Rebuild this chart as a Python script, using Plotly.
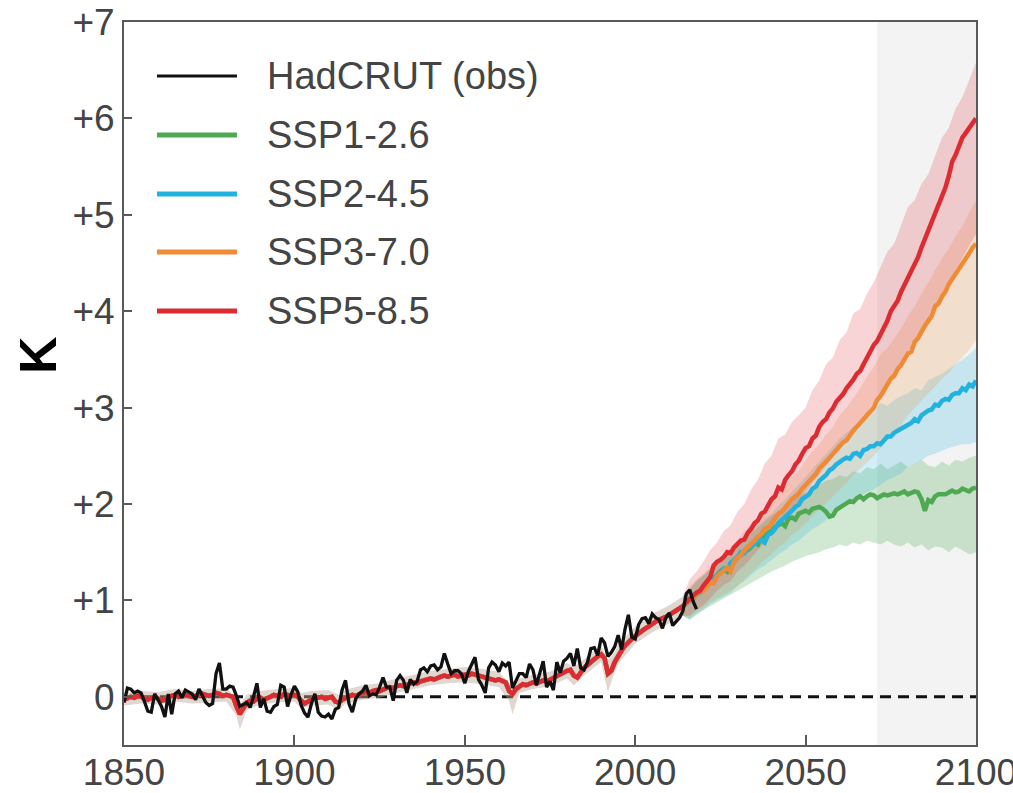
import plotly.graph_objects as go

# ---------------- data ----------------
years_hist = list(range(1850, 2015))
hist_mean = [
    -0.03, -0.02, 0.00, -0.01, 0.01, 0.00, -0.02, -0.03, -0.01, 0.00,
    -0.02, -0.04, -0.03, 0.00, 0.01, 0.02, 0.00, 0.01, 0.02, 0.01,
    0.00, 0.01, 0.02, 0.03, 0.02, 0.01, 0.02, 0.04, 0.03, 0.01,
    0.02, 0.01, 0.00, -0.10, -0.18, -0.12, -0.06, -0.04, -0.05, -0.02,
    -0.01, -0.03, -0.02, 0.00, 0.02, 0.01, 0.00, 0.03, 0.02, 0.01,
    0.02, 0.00, -0.04, -0.07, -0.05, -0.02, 0.00, -0.01, 0.00, -0.02,
    -0.01, 0.00, -0.05, -0.06, -0.03, -0.01, 0.00, 0.02, 0.01, 0.03,
    0.04, 0.05, 0.04, 0.06, 0.07, 0.06, 0.08, 0.09, 0.10, 0.09,
    0.11, 0.12, 0.11, 0.13, 0.14, 0.15, 0.14, 0.16, 0.17, 0.18,
    0.19, 0.18, 0.20, 0.21, 0.22, 0.21, 0.22, 0.23, 0.21, 0.22,
    0.23, 0.22, 0.24, 0.23, 0.22, 0.21, 0.20, 0.19, 0.18, 0.17,
    0.18, 0.17, 0.15, 0.06, 0.03, 0.08, 0.11, 0.13, 0.12, 0.14,
    0.15, 0.14, 0.15, 0.17, 0.16, 0.18, 0.19, 0.22, 0.23, 0.25,
    0.27, 0.28, 0.22, 0.20, 0.26, 0.30, 0.33, 0.36, 0.40, 0.42,
    0.44, 0.40, 0.24, 0.27, 0.36, 0.43, 0.48, 0.53, 0.57, 0.60,
    0.63, 0.66, 0.69, 0.71, 0.73, 0.76, 0.78, 0.80, 0.81, 0.83,
    0.85, 0.87, 0.89, 0.91, 0.94,
]

years_future = list(range(2015, 2101))
ssp126 = [
    0.97, 1.00, 1.03, 1.05, 1.08, 1.12, 1.15, 1.19, 1.22, 1.26,
    1.30, 1.33, 1.30, 1.38, 1.40, 1.45, 1.47, 1.50, 1.53, 1.55,
    1.60, 1.58, 1.66, 1.66, 1.70, 1.72, 1.76, 1.78, 1.80, 1.77,
    1.85, 1.86, 1.84, 1.90, 1.92, 1.93, 1.91, 1.95, 1.96, 1.97,
    1.95, 1.92, 1.87, 1.88, 1.94, 1.96, 1.98, 2.00, 2.03, 2.02,
    2.06, 2.08, 2.05, 2.08, 2.10, 2.09, 2.06, 2.08, 2.10, 2.09,
    2.10, 2.11, 2.10, 2.12, 2.13, 2.10, 2.12, 2.13, 2.12, 2.05,
    1.93, 2.04, 2.02, 2.08, 2.10, 2.10, 2.10, 2.12, 2.14, 2.12,
    2.13, 2.16, 2.14, 2.13, 2.16, 2.17,
]
ssp245 = [
    0.97, 0.99, 1.02, 1.06, 1.08, 1.12, 1.16, 1.18, 1.24, 1.26,
    1.30, 1.33, 1.32, 1.39, 1.42, 1.45, 1.50, 1.49, 1.55, 1.56,
    1.58, 1.62, 1.63, 1.60, 1.68, 1.70, 1.74, 1.80, 1.83, 1.86,
    1.90, 1.93, 1.97, 1.99, 2.05, 2.08, 2.10, 2.16, 2.18, 2.24,
    2.27, 2.30, 2.35, 2.37, 2.41, 2.44, 2.46, 2.48, 2.47, 2.52,
    2.53, 2.50, 2.56, 2.57, 2.60, 2.60, 2.63, 2.62, 2.66, 2.70,
    2.70, 2.74, 2.76, 2.78, 2.80, 2.83, 2.84, 2.88, 2.86, 2.92,
    2.95, 2.97, 2.98, 3.03, 3.02, 3.07, 3.09, 3.08, 3.13, 3.15,
    3.15, 3.20, 3.18, 3.24, 3.22, 3.28,
]
ssp370 = [
    0.97, 1.00, 1.03, 1.05, 1.09, 1.10, 1.14, 1.20, 1.18, 1.25,
    1.28, 1.31, 1.34, 1.30, 1.40, 1.44, 1.47, 1.52, 1.55, 1.58,
    1.62, 1.66, 1.69, 1.74, 1.76, 1.80, 1.85, 1.90, 1.92, 1.97,
    2.00, 2.05, 2.08, 2.11, 2.16, 2.20, 2.24, 2.27, 2.31, 2.37,
    2.40, 2.44, 2.48, 2.52, 2.55, 2.60, 2.64, 2.66, 2.72, 2.76,
    2.80, 2.85, 2.88, 2.92, 2.96, 3.00, 3.08, 3.12, 3.18, 3.24,
    3.30, 3.33, 3.40, 3.44, 3.50, 3.56, 3.58, 3.68, 3.72, 3.79,
    3.85, 3.90, 3.95, 4.05, 4.08, 4.15, 4.20, 4.28, 4.33, 4.40,
    4.45, 4.50, 4.55, 4.60, 4.66, 4.70,
]
ssp585 = [
    0.98, 1.02, 1.05, 1.08, 1.10, 1.15, 1.19, 1.24, 1.36, 1.40,
    1.42, 1.45, 1.50, 1.49, 1.55, 1.58, 1.62, 1.63, 1.70, 1.74,
    1.80, 1.83, 1.90, 1.92, 1.99, 2.05, 2.08, 2.17, 2.15, 2.25,
    2.30, 2.34, 2.41, 2.45, 2.52, 2.58, 2.60, 2.68, 2.71, 2.80,
    2.85, 2.88, 2.95, 2.99, 3.06, 3.10, 3.14, 3.20, 3.24, 3.29,
    3.35, 3.38, 3.45, 3.52, 3.57, 3.65, 3.69, 3.76, 3.83, 3.90,
    4.00, 4.05, 4.11, 4.20, 4.27, 4.35, 4.41, 4.49, 4.56, 4.66,
    4.75, 4.82, 4.90, 5.02, 5.08, 5.18, 5.28, 5.40, 5.55, 5.62,
    5.70, 5.80, 5.85, 5.90, 5.96, 6.00,
]

obs_years = list(range(1850, 2019))
obs = [
    -0.06, 0.09, 0.08, 0.04, 0.06, 0.04, -0.05, -0.15, -0.16, 0.03,
    -0.03, -0.10, -0.21, 0.03, -0.18, 0.03, 0.06, -0.01, 0.07, 0.05,
    0.03, -0.03, 0.08, 0.01, -0.06, -0.09, -0.07, 0.24, 0.35, 0.08,
    0.08, 0.11, 0.10, 0.01, -0.10, -0.08, -0.06, -0.11, 0.00, 0.14,
    -0.11, -0.02, -0.15, -0.16, -0.10, -0.08, 0.12, 0.10, -0.10, 0.02,
    0.11, 0.05, -0.09, -0.17, -0.21, -0.07, 0.03, -0.16, -0.20, -0.21,
    -0.18, -0.23, -0.13, -0.11, 0.07, 0.17, -0.07, -0.16, -0.02, 0.03,
    0.06, 0.12, 0.01, 0.03, 0.02, 0.10, 0.20, 0.10, 0.10, -0.04,
    0.17, 0.22, 0.17, 0.04, 0.18, 0.13, 0.16, 0.28, 0.30, 0.26,
    0.32, 0.33, 0.28, 0.31, 0.45, 0.34, 0.24, 0.27, 0.27, 0.24,
    0.14, 0.26, 0.34, 0.41, 0.18, 0.12, 0.04, 0.30, 0.36, 0.33,
    0.26, 0.35, 0.32, 0.36, 0.09, 0.17, 0.24, 0.24, 0.20, 0.34,
    0.28, 0.12, 0.25, 0.37, 0.10, 0.16, 0.07, 0.36, 0.25, 0.37,
    0.40, 0.45, 0.32, 0.50, 0.30, 0.28, 0.36, 0.50, 0.51, 0.43,
    0.61, 0.56, 0.42, 0.46, 0.52, 0.64, 0.49, 0.70, 0.85, 0.62,
    0.60, 0.75, 0.81, 0.82, 0.76, 0.86, 0.82, 0.80, 0.71, 0.82,
    0.87, 0.74, 0.78, 0.82, 0.89, 1.07, 1.11, 0.99, 0.91,
]

band_years_hist = [
    1850, 1855, 1860, 1865, 1870, 1875, 1880, 1883, 1884, 1886,
    1890, 1895, 1900, 1902, 1905, 1910, 1913, 1915, 1920, 1925,
    1930, 1935, 1940, 1945, 1950, 1955, 1960, 1963, 1964, 1966,
    1970, 1975, 1980, 1982, 1985, 1990, 1992, 1994, 1995, 2000,
    2005, 2010, 2014,
]
hist_lo = [
    -0.09, -0.07, -0.08, -0.05, -0.07, -0.06, -0.05, -0.20, -0.34, -0.14,
    -0.08, -0.06, -0.05, -0.12, -0.09, -0.08, -0.14, -0.07, -0.03, -0.01,
    0.04, 0.08, 0.12, 0.14, 0.15, 0.13, 0.10, -0.04, -0.18, 0.04,
    0.08, 0.11, 0.19, 0.12, 0.22, 0.36, 0.05, 0.26, 0.34, 0.55,
    0.67, 0.76, 0.84,
]
hist_hi = [
    0.04, 0.06, 0.05, 0.08, 0.06, 0.08, 0.09, -0.02, -0.08, 0.02,
    0.06, 0.08, 0.09, 0.04, 0.06, 0.07, 0.02, 0.07, 0.12, 0.14,
    0.19, 0.23, 0.27, 0.29, 0.31, 0.29, 0.26, 0.14, 0.11, 0.19,
    0.23, 0.26, 0.35, 0.31, 0.39, 0.53, 0.38, 0.46, 0.54, 0.73,
    0.86, 0.95, 1.04,
]

band_years_future = list(range(2016, 2101, 2))
ssp126_lo = [
    0.80, 0.85, 0.90, 0.94, 0.98, 1.02, 1.06, 1.10, 1.14, 1.18,
    1.22, 1.26, 1.30, 1.33, 1.36, 1.40, 1.43, 1.46, 1.48, 1.50,
    1.53, 1.55, 1.58, 1.56, 1.60, 1.58, 1.62, 1.60, 1.58, 1.62,
    1.58, 1.56, 1.60, 1.55, 1.58, 1.52, 1.56, 1.55, 1.50, 1.56,
    1.52, 1.48, 1.50,
]
ssp126_hi = [
    1.12, 1.20, 1.26, 1.32, 1.40, 1.46, 1.52, 1.58, 1.65, 1.70,
    1.76, 1.82, 1.88, 1.92, 1.98, 2.02, 2.08, 2.12, 2.16, 2.20,
    2.24, 2.26, 2.30, 2.28, 2.34, 2.32, 2.38, 2.36, 2.42, 2.36,
    2.40, 2.44, 2.38, 2.42, 2.46, 2.40, 2.38, 2.44, 2.40, 2.46,
    2.44, 2.48, 2.50,
]
ssp245_lo = [
    0.80, 0.86, 0.90, 0.96, 1.00, 1.04, 1.08, 1.15, 1.20, 1.26,
    1.32, 1.36, 1.42, 1.48, 1.52, 1.58, 1.62, 1.68, 1.74, 1.78,
    1.84, 1.90, 1.95, 2.00, 2.05, 2.08, 2.12, 2.15, 2.20, 2.25,
    2.28, 2.32, 2.38, 2.42, 2.45, 2.50, 2.52, 2.55, 2.58, 2.60,
    2.62, 2.62, 2.64,
]
ssp245_hi = [
    1.12, 1.20, 1.26, 1.32, 1.40, 1.45, 1.52, 1.58, 1.65, 1.72,
    1.78, 1.85, 1.90, 1.98, 2.05, 2.12, 2.20, 2.28, 2.36, 2.45,
    2.52, 2.60, 2.68, 2.74, 2.80, 2.86, 2.92, 2.98, 3.05, 3.02,
    3.08, 3.12, 3.15, 3.20, 3.18, 3.28, 3.32, 3.35, 3.40, 3.45,
    3.50, 3.55, 3.62,
]
ssp370_lo = [
    0.82, 0.88, 0.92, 0.98, 1.02, 1.06, 1.10, 1.15, 1.22, 1.28,
    1.35, 1.42, 1.48, 1.55, 1.60, 1.68, 1.73, 1.80, 1.86, 1.93,
    2.00, 2.08, 2.15, 2.22, 2.30, 2.36, 2.43, 2.50, 2.58, 2.66,
    2.74, 2.82, 2.92, 3.00, 3.08, 3.15, 3.22, 3.30, 3.36, 3.45,
    3.52, 3.60, 3.70,
]
ssp370_hi = [
    1.15, 1.22, 1.28, 1.35, 1.42, 1.48, 1.55, 1.62, 1.72, 1.78,
    1.85, 1.95, 2.02, 2.10, 2.18, 2.28, 2.35, 2.45, 2.55, 2.62,
    2.72, 2.80, 2.92, 3.00, 3.10, 3.20, 3.32, 3.42, 3.55, 3.62,
    3.72, 3.82, 3.95, 4.05, 4.18, 4.30, 4.42, 4.55, 4.65, 4.78,
    4.88, 5.02, 5.15,
]
ssp585_lo = [
    0.84, 0.90, 0.95, 1.02, 1.10, 1.16, 1.20, 1.30, 1.36, 1.44,
    1.52, 1.60, 1.68, 1.78, 1.85, 1.95, 2.02, 2.12, 2.22, 2.30,
    2.40, 2.48, 2.58, 2.66, 2.76, 2.85, 2.95, 3.05, 3.14, 3.25,
    3.35, 3.45, 3.58, 3.68, 3.80, 3.92, 4.05, 4.18, 4.30, 4.42,
    4.55, 4.68, 4.80,
]
ssp585_hi = [
    1.22, 1.30, 1.40, 1.52, 1.60, 1.72, 1.78, 1.92, 2.00, 2.15,
    2.25, 2.42, 2.50, 2.68, 2.72, 2.85, 2.92, 3.00, 3.18, 3.28,
    3.45, 3.52, 3.70, 3.78, 3.98, 4.02, 4.18, 4.30, 4.45, 4.62,
    4.70, 4.88, 5.08, 5.15, 5.32, 5.42, 5.62, 5.80, 5.90, 6.10,
    6.22, 6.40, 6.58,
]

scenario_names = ["SSP1-2.6", "SSP2-4.5", "SSP3-7.0", "SSP5-8.5"]
scenario_colors = ["#4ea952", "#22b2e0", "#ef8b35", "#de2a31"]
band_colors = ["rgba(78,169,82,0.26)", "rgba(34,178,224,0.21)",
               "rgba(239,139,53,0.20)", "rgba(222,42,49,0.20)"]
hist_band_color = "rgba(190,165,150,0.45)"
obs_name = "HadCRUT (obs)"

y_tickvals = [0, 1, 2, 3, 4, 5, 6, 7]
y_ticktext = ["0", "+1", "+2", "+3", "+4", "+5", "+6", "+7"]
x_tickvals = [1850, 1900, 1950, 2000, 2050, 2100]
x_ticktext = ["1850", "1900", "1950", "2000", "2050", "2100"]
period_start, period_end = 2071, 2100

means = [ssp126, ssp245, ssp370, ssp585]
los = [ssp126_lo, ssp245_lo, ssp370_lo, ssp585_lo]
his = [ssp126_hi, ssp245_hi, ssp370_hi, ssp585_hi]

assert len(hist_mean) == len(years_hist)
assert len(obs) == len(obs_years)
assert len(hist_lo) == len(band_years_hist) == len(hist_hi)
for m, lo, hi in zip(means, los, his):
    assert len(m) == len(years_future)
    assert len(lo) == len(band_years_future) == len(hi)

# ---------------- figure ----------------
fig = go.Figure()

# historical model range (shared by all scenarios)
fig.add_trace(go.Scatter(
    x=band_years_hist + band_years_hist[::-1], y=hist_lo + hist_hi[::-1],
    fill="toself", fillcolor=hist_band_color, line=dict(width=0),
    mode="lines", hoverinfo="skip", showlegend=False, name="historical range"))

# scenario ranges
for name, col, lo, hi in zip(scenario_names, band_colors, los, his):
    bx = band_years_hist[-1:] + band_years_future
    blo = hist_lo[-1:] + lo
    bhi = hist_hi[-1:] + hi
    fig.add_trace(go.Scatter(
        x=bx + bx[::-1], y=blo + bhi[::-1],
        fill="toself", fillcolor=col, line=dict(width=0),
        mode="lines", hoverinfo="skip", showlegend=False, name=name + " range"))

# scenario means
for name, col, m in zip(scenario_names, scenario_colors, means):
    fig.add_trace(go.Scatter(
        x=years_hist + years_future, y=hist_mean + m,
        mode="lines", line=dict(color=col, width=4.5),
        name=name, showlegend=False))

# observations
fig.add_trace(go.Scatter(
    x=obs_years, y=obs, mode="lines",
    line=dict(color="#111111", width=3.3), name=obs_name, showlegend=False))

# shaded period and zero line
fig.add_shape(type="rect", xref="x", yref="paper", x0=period_start, x1=period_end,
              y0=0, y1=1, fillcolor="#f3f3f3", line=dict(width=0), layer="below")
fig.add_shape(type="line", xref="paper", yref="y", x0=0, x1=1, y0=0, y1=0,
              line=dict(color="#111111", width=3, dash="11px,7px"), layer="below")

# manual legend
legend_names = [obs_name] + scenario_names
legend_colors = ["#111111"] + scenario_colors
legend_widths = [3, 5, 5, 5, 5]
legend_rows = [0.9253, 0.8437, 0.7621, 0.6819, 0.6003]
for nm, col, w, yy in zip(legend_names, legend_colors, legend_widths, legend_rows):
    fig.add_shape(type="line", xref="paper", yref="paper",
                  x0=0.0387, x1=0.1326, y0=yy, y1=yy,
                  line=dict(color=col, width=w))
    fig.add_annotation(xref="paper", yref="paper", x=0.1655, y=yy,
                       xanchor="left", yanchor="middle", text=nm, showarrow=False,
                       font=dict(family="Liberation Sans, Arial, sans-serif",
                                 size=38, color="#444444"))

# y-axis unit label
fig.add_annotation(xref="paper", yref="paper", x=-0.1009, y=0.5394,
                   text="<b>K</b>", textangle=-90, showarrow=False,
                   xanchor="center", yanchor="middle",
                   font=dict(family="Liberation Sans, Arial, sans-serif",
                             size=52, color="#000000"))

axis_font = dict(family="Liberation Sans, Arial, sans-serif", size=37, color="#444444")
fig.update_xaxes(range=[1850, 2100], tickvals=x_tickvals, ticktext=x_ticktext,
                 ticks="inside", ticklen=10, tickwidth=1.5, tickcolor="#595959",
                 showline=True, linecolor="#595959", linewidth=2, mirror=True,
                 showgrid=False, zeroline=False, tickfont=axis_font,
                 automargin=False, ticklabeloverflow="allow",
                 ticklabelstandoff=-6)
fig.update_yaxes(range=[-0.5, 7], tickvals=y_tickvals, ticktext=y_ticktext,
                 ticks="inside", ticklen=8, tickwidth=1.5, tickcolor="#595959",
                 showline=True, linecolor="#595959", linewidth=2, mirror=True,
                 showgrid=False, zeroline=False, tickfont=axis_font,
                 automargin=False, ticklabeloverflow="allow",
                 ticklabelstandoff=0)

fig.update_layout(width=1013, height=793,
                  margin=dict(l=124, r=37, t=22, b=48, pad=0, autoexpand=False),
                  paper_bgcolor="white", plot_bgcolor="white",
                  showlegend=False)

fig.write_html("out.html")
